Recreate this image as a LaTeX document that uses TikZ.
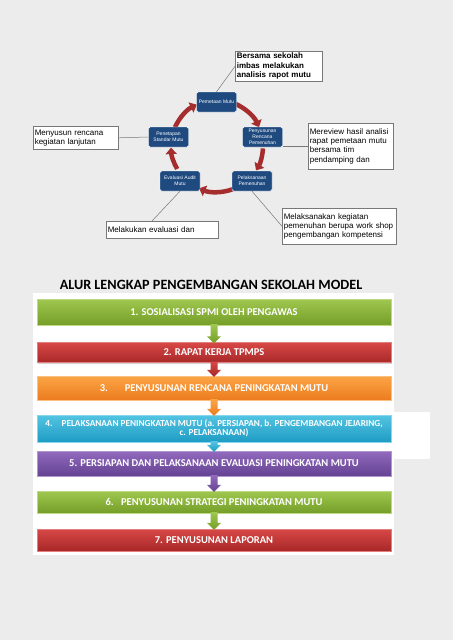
\documentclass[tikz,border=0pt]{standalone}
\usepackage{fontspec}
\setmainfont{Liberation Sans}
\newfontfamily\calfont{Carlito}
\usetikzlibrary{arrows.meta,shadows,calc}
\definecolor{bgc}{RGB}{236,236,236}
\definecolor{cblue}{RGB}{30,74,128}
\definecolor{arrc}{RGB}{165,45,45}
\definecolor{lgray}{RGB}{120,120,120}
\definecolor{gtop}{RGB}{160,200,80}\definecolor{gbot}{RGB}{116,158,40}
\definecolor{rtop}{RGB}{215,72,70}\definecolor{rbot}{RGB}{168,40,40}
\definecolor{otop}{RGB}{251,165,70}\definecolor{obot}{RGB}{236,124,30}
\definecolor{ctop}{RGB}{84,196,226}\definecolor{cbot}{RGB}{30,156,196}
\definecolor{ptop}{RGB}{146,106,190}\definecolor{pbot}{RGB}{100,66,146}
\begin{document}
\begin{tikzpicture}[x=1pt,y=-1pt,
  cyclenode/.style={draw=white, line width=0.4pt, fill=cblue, rounded corners=1.5pt,
    minimum width=40pt, minimum height=20pt, inner sep=0.5pt, text=white,
    font=\fontsize{5}{5.8}\selectfont, align=center},
  cyc/.style={draw=arrc, line width=4.5pt, -{Triangle[width=11pt,length=6.5pt]}},
  callout/.style={draw=lgray, line width=0.6pt, fill=white, align=left,
    font=\fontsize{8}{9.2}\selectfont, inner xsep=1.5pt, inner ysep=1pt, anchor=north west},
  conn/.style={draw=lgray, line width=0.5pt},
  flowbox/.style={minimum width=354pt, minimum height=#1, inner sep=1pt, text=white,
    font=\calfont\bfseries\fontsize{10.5}{12}\selectfont, align=center,
    drop shadow={shadow xshift=0.8pt, shadow yshift=-1pt, opacity=0.35}},
  fg/.style={top color=gtop, bottom color=gbot, draw=gtop!70!white, line width=0.4pt},
  fr/.style={top color=rtop, bottom color=rbot, draw=rtop!70!white, line width=0.4pt},
  fo/.style={top color=otop, bottom color=obot, draw=otop!70!white, line width=0.4pt},
  fc/.style={top color=ctop, bottom color=cbot, draw=ctop!70!white, line width=0.4pt},
  fp/.style={top color=ptop, bottom color=pbot, draw=ptop!70!white, line width=0.4pt}
]
\fill[bgc] (0,0) rectangle (453,640);
\useasboundingbox (0,0) rectangle (453,640);

% ---- cycle ----
\coordinate (cc) at (217,146);
\draw[cyc] (cc) ++(-66:46) arc[start angle=-66, end angle=-24, radius=46];
\draw[cyc] (cc) ++(3:46) arc[start angle=3, end angle=32, radius=46];
\draw[cyc] (cc) ++(70:46) arc[start angle=70, end angle=113, radius=46];
\draw[cyc] (cc) ++(150:46) arc[start angle=150, end angle=178, radius=46];
\draw[cyc] (cc) ++(204:46) arc[start angle=204, end angle=244, radius=46];

\node[cyclenode] (pem) at (216.5,102) {Pemetaan Mutu};
\node[cyclenode] (peny) at (262.5,137) {Penyusunan\\Rencana\\Pemenuhan};
\node[cyclenode] (pel) at (252,181) {Pelaksanaan\\Pemenuhan};
\node[cyclenode] (eva) at (180,181) {Evaluasi Audit\\Mutu};
\node[cyclenode] (pen) at (168.5,137) {Penetapan\\Standar Mutu};

\node[callout, font=\bfseries\fontsize{8}{9.4}\selectfont, text width=84pt, minimum height=30pt] (b1) at (235,51)
  {Bersama sekolah\\imbas melakukan\\analisis rapot mutu};
\node[callout, text width=82pt, minimum height=46pt] (b2) at (308,123)
  {Mereview hasil analisi\\rapat pemetaan mutu\\bersama tim\\pendamping dan};
\node[callout, text width=111pt, minimum height=36pt] (b3) at (282,208)
  {Melaksanakan kegiatan\\pemenuhan berupa work shop\\pengembangan kompetensi};
\node[callout, text width=82pt, minimum height=23pt] (b4) at (33,126)
  {Menyusun rencana\\kegiatan lanjutan};
\node[callout, text width=109pt, minimum height=17pt] (b5) at (106,221)
  {Melakukan evaluasi dan};

\draw[conn] (pem.north) -- (b1.west);
\draw[conn] (b2.west) -- (b2.west -| peny.east);
\draw[conn] (pel.south) -- (b3.west);
\draw[conn] (pen.west) -- (b4.east);
\draw[conn] (eva.south) -- ([xshift=46pt]b5.north west);

% ---- flow ----
\fill[white] (33,293) rectangle (394,555);
\fill[white] (392,412) rectangle (430,459);
\node[font=\calfont\bfseries\fontsize{14.2}{16}\selectfont] (title) at (211,285)
  {ALUR LENGKAP PENGEMBANGAN SEKOLAH MODEL};

\node[flowbox=26pt, fg] (f1) at (214,312) {1. SOSIALISASI SPMI OLEH PENGAWAS};
\node[flowbox=20pt, fr] (f2) at (214,352.5) {2. RAPAT KERJA TPMPS};
\node[flowbox=24pt, fo] (f3) at (214,388) {3.\hspace{1.6em}PENYUSUNAN RENCANA PENINGKATAN MUTU};
\node[flowbox=27pt, fc, font=\calfont\bfseries\fontsize{9.2}{10.6}\selectfont] (f4) at (214,428.5)
  {\begin{tabular}{@{}c@{}}4.\hspace{1em}PELAKSANAAN PENINGKATAN MUTU (a. PERSIAPAN, b. PENGEMBANGAN JEJARING,\\[-1.5pt] c. PELAKSANAAN)\end{tabular}};
\node[flowbox=25pt, fp] (f5) at (214,463.5) {5. PERSIAPAN DAN PELAKSANAAN EVALUASI PENINGKATAN MUTU};
\node[flowbox=22pt, fg] (f6) at (214,502) {6.\hspace{0.7em}PENYUSUNAN STRATEGI PENINGKATAN MUTU};
\node[flowbox=22pt, fr] (f7) at (214,540) {7. PENYUSUNAN LAPORAN};

\foreach \a/\b/\t/\bt in {f1/f2/gtop/gbot, f2/f3/rtop/rbot, f3/f4/otop/obot, f4/f5/ctop/cbot, f5/f6/ptop/pbot, f6/f7/gtop/gbot}{
  \shade[top color=\t, bottom color=\bt]
    ([xshift=-3.5pt,yshift=1pt]\a.south) -- ([xshift=3.5pt,yshift=1pt]\a.south)
    -- ($(\b.north)+(3.5,-6)$) -- ($(\b.north)+(7,-6)$) -- ($(\b.north)+(0,1)$)
    -- ($(\b.north)+(-7,-6)$) -- ($(\b.north)+(-3.5,-6)$) -- cycle;
}
\end{tikzpicture}
\end{document}
